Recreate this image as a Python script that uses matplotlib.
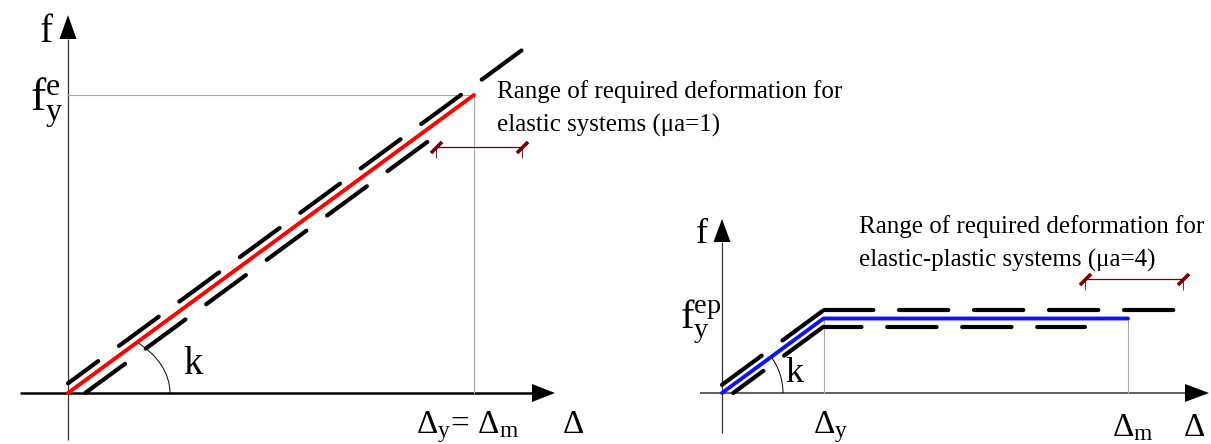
"""
Elastic vs elastic-plastic force-deformation sketch (equal displacement rule).
Two panels drawn on transparent full-figure axes sharing the same scale.
Output: out.png
"""
import numpy as np
import matplotlib
matplotlib.use("Agg")
import matplotlib.pyplot as plt
from matplotlib.patches import Arc, Polygon
from matplotlib.path import Path

plt.rcParams.update({
    "font.family": ["Liberation Serif", "DejaVu Serif"],
    "mathtext.fontset": "custom",
    "mathtext.rm": "Liberation Serif",
    "mathtext.it": "Liberation Serif:italic",
    "mathtext.bf": "Liberation Serif:bold",
    "lines.scale_dashes": False,
})

# ── Data (Δ in units of Δy, f in units of f_y^ep) ────────────────────────────
elastic_d = [0.0, 4.0]
elastic_f = [0.0, 4.0]
elastic_up_d = [0.0, 4.5]
elastic_up_f = [0.13, 4.63]
elastic_lo_d = [0.17, 3.62]
elastic_lo_f = [0.0, 3.45]
elastic_range = [3.63, 4.47]
elastic_range_f = 3.3

ep_d = [0.0, 1.0, 4.0]
ep_f = [0.0, 1.0, 1.0]
ep_up_d = [0.0, 1.0, 4.54]
ep_up_f = [0.11, 1.11, 1.11]
ep_lo_d = [0.11, 1.0, 3.58]
ep_lo_f = [0.0, 0.89, 0.89]
ep_range = [3.58, 4.54]
ep_range_f = 1.53

# ── Layout (pixels) ──────────────────────────────────────────────────────────
W, H = 1211, 444
SX, SY = 101.5, 74.5          # px per unit
ORG_L = (68, 393)
ORG_R = (722, 393)
DASH_BLK = "#000000"
RANGE_COL = "#7a0000"
GREY = "#a8a8a8"
FS_NOTE = 18
FS_DELTA = 24

fig = plt.figure(figsize=(W / 100, H / 100), dpi=100, facecolor="white")

# overlay in pixel coordinates for axes arrows and labels
ov = fig.add_axes([0, 0, 1, 1])
ov.set_xlim(0, W); ov.set_ylim(H, 0); ov.axis("off")


def panel(org):
    ax = fig.add_axes([0, 0, 1, 1])
    ax.set_xlim(-org[0] / SX, (W - org[0]) / SX)
    ax.set_ylim(-(H - org[1]) / SY, org[1] / SY)
    ax.axis("off")
    return ax


def arrow_v(x, y0, ybase, ytip, hw=8.5, color="#333", lw=0.9):
    ov.plot([x, x], [y0, ybase], color=color, lw=lw, solid_capstyle="butt")
    ov.add_patch(Polygon([[x - hw, ybase], [x + hw, ybase], [x, ytip]],
                         closed=True, fc="black", ec="none"))


def arrow_h(y, x0, xbase, xtip, hh=9, color="black", lw=1.8):
    ov.plot([x0, xbase], [y, y], color=color, lw=lw, solid_capstyle="butt")
    ov.add_patch(Polygon([[xbase, y - hh], [xbase, y + hh], [xtip, y]],
                         closed=True, fc="black", ec="none"))


def dashed(ax, d, f, offset=0.0):
    # each straight segment restarts the dash pattern
    for i in range(len(d) - 1):
        ax.plot(d[i:i + 2], f[i:i + 2], color=DASH_BLK, lw=3.0,
                dash_capstyle="round", linestyle=(offset, (35.5, 18.5)))


slash = Path([(-0.5, -0.5), (0.5, 0.5)])
tick = Path([(0, 0), (0, -1)])


def range_bar(ax, rng, level):
    ax.plot(rng, [level, level], color=RANGE_COL, lw=0.9)
    ax.plot(rng, [level, level], ls="none", marker=tick, ms=16,
            mec=RANGE_COL, mew=0.6)
    ax.plot(rng, [level, level], ls="none", marker=slash, ms=8,
            mec=RANGE_COL, mew=2.6)


# ── axes arrows ──────────────────────────────────────────────────────────────
arrow_v(68, 440, 39, 15)
arrow_h(393, 20, 532, 555)
arrow_v(722, 433, 242, 219)
arrow_h(393, 700, 1185, 1209, color="#444", lw=1.2)

# ── Left panel: elastic ──────────────────────────────────────────────────────
axL = panel(ORG_L)
axL.plot([0, elastic_d[-1]], [elastic_f[-1]] * 2, color=GREY, lw=0.8)
axL.plot([elastic_d[-1]] * 2, [0, elastic_f[-1]], color=GREY, lw=0.8)
dashed(axL, elastic_up_d, elastic_up_f, offset=8.5)
dashed(axL, elastic_lo_d, elastic_lo_f, offset=0)
axL.plot(elastic_d, elastic_f, color="#ff0000", lw=2.8, solid_capstyle="round")
axL.add_patch(Arc((0, 0), 2 * 102 / SX, 2 * 69 / SY, theta1=0, theta2=45,
                  color="black", lw=0.7))
range_bar(axL, elastic_range, elastic_range_f)

# ── Right panel: elastic-plastic ─────────────────────────────────────────────
axR = panel(ORG_R)
for dv in (ep_d[1], ep_d[2]):
    axR.plot([dv, dv], [0, ep_f[1]], color=GREY, lw=0.8)
dashed(axR, ep_up_d, ep_up_f, offset=0)
dashed(axR, ep_lo_d, ep_lo_f, offset=8.5)
axR.plot(ep_d, ep_f, color="#1010ff", lw=2.8, solid_capstyle="round")
axR.add_patch(Arc((0, 0), 2 * 61 / SX, 2 * 61 / SY, theta1=0, theta2=45,
                  color="black", lw=0.7))
range_bar(axR, ep_range, ep_range_f)

# ── Labels ───────────────────────────────────────────────────────────────────
ov.text(46, 42, "f", fontsize=28, ha="center", va="baseline")
ov.text(64, 110, r"$\mathrm{f}_\mathrm{y}^\mathrm{e}$", fontsize=33,
        ha="right", va="baseline")
ov.text(193, 374, "k", fontsize=28, ha="center", va="baseline")
ov.text(416, 433, r"$\Delta_\mathrm{y}$= $\Delta_\mathrm{m}$",
        fontsize=FS_DELTA, ha="left", va="baseline")
ov.text(562, 433, r"$\Delta$", fontsize=FS_DELTA, ha="left", va="baseline")
ov.text(497, 98, "Range of required deformation for", fontsize=FS_NOTE,
        ha="left", va="baseline")
ov.text(497, 132, "elastic systems (\u03bca=1)", fontsize=FS_NOTE,
        ha="left", va="baseline")

ov.text(702, 243, "f", fontsize=26, ha="center", va="baseline")
ov.text(721, 328, r"$\mathrm{f}_\mathrm{y}^\mathrm{ep}$", fontsize=29,
        ha="right", va="baseline")
ov.text(794, 382, "k", fontsize=26, ha="center", va="baseline")
ov.text(813, 433, r"$\Delta_\mathrm{y}$", fontsize=FS_DELTA,
        ha="left", va="baseline")
ov.text(1112, 436, r"$\Delta_\mathrm{m}$", fontsize=FS_DELTA,
        ha="left", va="baseline")
ov.text(1183, 436, r"$\Delta$", fontsize=FS_DELTA, ha="left", va="baseline")
ov.text(859, 233, "Range of required deformation for", fontsize=FS_NOTE,
        ha="left", va="baseline")
ov.text(859, 267, "elastic-plastic systems (\u03bca=4)", fontsize=FS_NOTE,
        ha="left", va="baseline")

fig.savefig("out.png", dpi=100, facecolor="white")
plt.close(fig)
